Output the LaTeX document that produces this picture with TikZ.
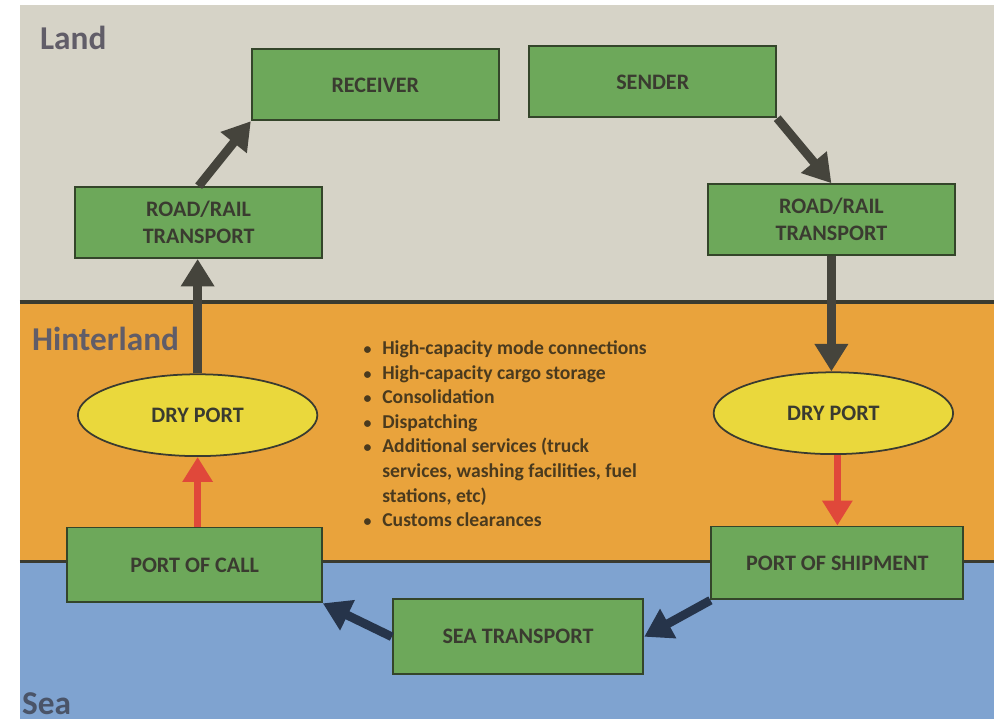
\documentclass[tikz,border=0pt]{standalone}
\usepackage{fontspec}
\setmainfont{Carlito}
\usetikzlibrary{arrows.meta,shapes.geometric,positioning}

\definecolor{landgray}{HTML}{D6D3C7}
\definecolor{hinterorange}{HTML}{E9A33C}
\definecolor{seablue}{HTML}{7FA3D0}
\definecolor{boxgreen}{HTML}{6DA85A}
\definecolor{boxedge}{HTML}{34452A}
\definecolor{dryyellow}{HTML}{EAD83C}
\definecolor{inkgray}{HTML}{3A3B30}
\definecolor{arrowgray}{HTML}{45443C}
\definecolor{arrownavy}{HTML}{26344A}
\definecolor{arrowred}{HTML}{E0483A}
\definecolor{zonegray}{HTML}{615D68}
\definecolor{seagray}{HTML}{4A5468}
\definecolor{listbrown}{HTML}{4A3A1E}

\begin{document}
\begin{tikzpicture}[
    x=0.02cm, y=-0.02cm,
    font=\bfseries,
    stage/.style={
		rectangle,
		draw=boxedge,
		line width=1.1pt,
		fill=boxgreen,
		text=inkgray,
		align=center,
		font=\bfseries\fontsize{12.6}{15.5}\selectfont,
		minimum width=4.95cm,
		minimum height=1.42cm
	},
	dryport/.style={
		ellipse,
		draw=inkgray,
		line width=1pt,
		fill=dryyellow,
		text=inkgray,
		font=\bfseries\fontsize{12.6}{15.5}\selectfont,
		minimum width=4.8cm,
		minimum height=1.64cm,
		inner sep=0pt
	},
	zone/.style={
		anchor=west,
		font=\bfseries\fontsize{19}{19}\selectfont
	},
	flow/.style={
		draw=arrowgray,
		line width=5pt,
		-{Triangle[length=5.5mm,width=6.4mm]}
	},
	seaflow/.style={
		flow,
		draw=arrownavy
	},
	portflow/.style={
		draw=arrowred,
		line width=4pt,
		-{Triangle[length=5mm,width=5.8mm]}
	}
  ]
    % zones in the background
    \fill[white] (0,0) rectangle (996,720);
    \fill[landgray] (20,5) rectangle (996,303);
    \fill[hinterorange] (20,303) rectangle (996,563);
    \fill[seablue] (20,563) rectangle (996,720);
    \draw[inkgray, line width=2.2pt] (20,303) -- (996,303);
    \draw[inkgray, line width=1.8pt] (20,563) -- (996,563);

    \node[zone, text=zonegray] (land) at (34,38) {Land};
    \node[zone, text=zonegray] (hinterland) at (26,340) {Hinterland};
    \node[zone, text=seagray] (sea) at (16,705) {Sea};

    % the stages of the chain
    \node[stage] (receiver) at (376,85) {RECEIVER};
    \node[stage] (sender) at (654,82) {SENDER};
    \node[stage] (roadL) at (199,223) {ROAD/RAIL\\TRANSPORT};
    \node[stage] (roadR) at (833,220) {ROAD/RAIL\\TRANSPORT};
    \node[dryport] (dryL) at (198,416) {DRY PORT};
    \node[dryport] (dryR) at (835,414) {DRY PORT};
    \node[stage, minimum width=5.1cm, minimum height=1.5cm] (portcall) at (195,566) {PORT OF CALL};
    \node[stage, minimum width=5.05cm, minimum height=1.46cm] (portship) at (839,564) {PORT OF SHIPMENT};
    \node[stage, minimum width=5.02cm, minimum height=1.5cm] (seatransport) at (519,638) {SEA TRANSPORT};

    % services of the dry port
    \node[anchor=north west, text=listbrown, font=\bfseries\fontsize{11.2}{14}\selectfont] (services) at (358,332)
 {%
 \begin{tabular}{@{}l@{\hspace{0.22cm}}l@{}}
  {\small\textbullet} & High-capacity mode connections\\
  {\small\textbullet} & High-capacity cargo storage\\
  {\small\textbullet} & Consolidation\\
  {\small\textbullet} & Dispatching\\
  {\small\textbullet} & Additional services (truck\\
   & services, washing facilities, fuel\\
   & stations, etc)\\
  {\small\textbullet} & Customs clearances
 \end{tabular}
 };

    % connectors
    \draw[flow] (roadL.north) -- (receiver.south west);
    \draw[flow] (sender.south east) -- (roadR.north);
    \draw[flow] (dryL.north) -- (dryL.north |- roadL.south);
    \draw[flow] (roadR.south) -- (roadR.south |- dryR.north);
    \draw[portflow] (dryR.south -| portship.north) -- (portship.north);
    \draw[portflow] (portcall.north -| dryL.south) -- (dryL.south);
    \draw[seaflow] (portship.south west) -- (seatransport.east);
    \draw[seaflow] (seatransport.west) -- (portcall.south east);

\end{tikzpicture}
\end{document}
